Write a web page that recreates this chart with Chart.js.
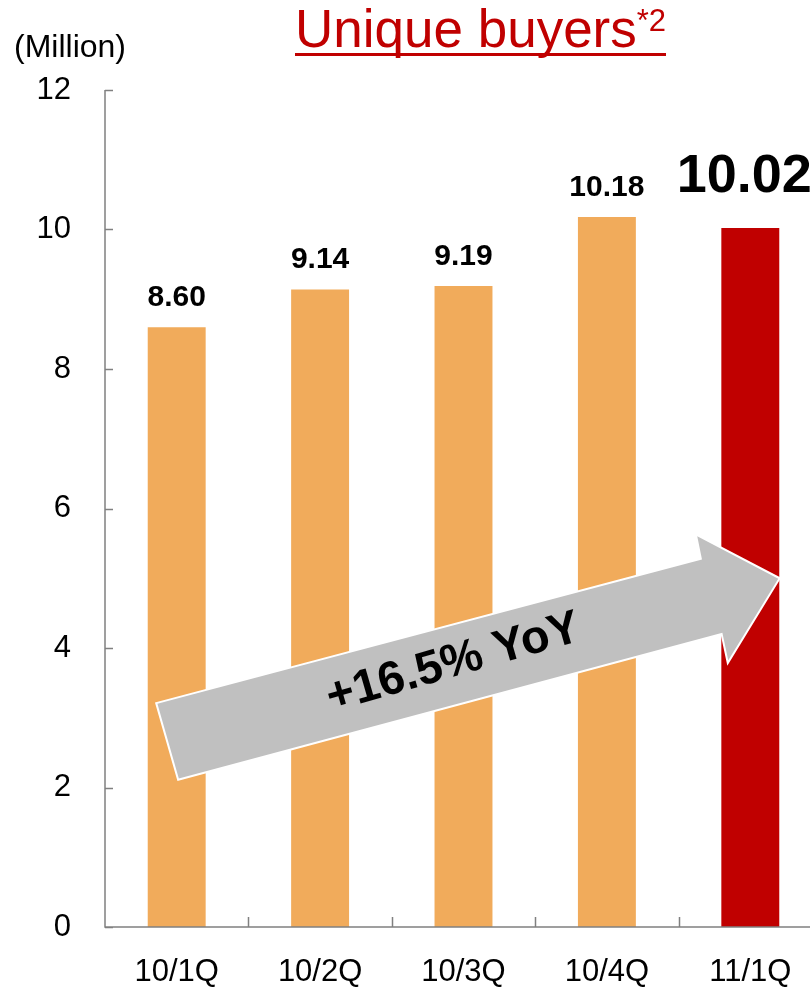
<!DOCTYPE html>
<html>
<head>
<meta charset="utf-8">
<title>Unique buyers</title>
<script src="https://cdn.jsdelivr.net/npm/chart.js@4.4.1/dist/chart.umd.min.js"></script>
<style>
	html, body {
		margin: 0;
		padding: 0;
		background: #fff;
		overflow: hidden;
	}
	#wrap {
		position: relative;
		width: 830px;
		height: 988px;
	}
	#wrap canvas {
		position: absolute;
		left: 0;
		top: 0;
	}
	.unit {
		position: absolute;
		left: 14px;
		top: 27px;
		font: 32px "Liberation Sans", Arial, sans-serif;
		line-height: 38px;
		color: #000;
	}
	.title {
		position: absolute;
		left: 295px;
		top: 5px;
		font: 53px "Liberation Sans", Arial, sans-serif;
		line-height: 48px;
		color: #c00000;
		border-bottom: 3px solid #c00000;
		white-space: nowrap;
	}
	.title sup {
		font-size: 31px;
		vertical-align: 16px;
		line-height: 0;
	}
</style>
</head>
<body>
<div id="wrap">
	<canvas id="buyersChart" width="830" height="988"></canvas>
	<div class="unit">(Million)</div>
	<div class="title">Unique buyers<sup>*2</sup></div>
</div>
<script>
const quarters = ['10/1Q', '10/2Q', '10/3Q', '10/4Q', '11/1Q'];
const buyers = [8.60, 9.14, 9.19, 10.18, 10.02];
const buyerLabels = ['8.60', '9.14', '9.19', '10.18', '10.02'];
const yTicks = [0, 2, 4, 6, 8, 10, 12];
const growthLabel = '+16.5% YoY';

const ORANGE = '#f1ab5b';
const RED = '#c00000';
const AXIS = '#808080';
const FONT = '"Liberation Sans", Arial, sans-serif';

Chart.defaults.font.family = FONT;

// arrow outline in (category index, value) units, tail -> head
const arrowShape = [
	[-0.143, 3.21],
	[3.655, 5.28],
	[3.62, 5.63],
	[4.205, 5.00],
	[3.843, 3.785],
	[3.80, 4.20],
	[0.01, 2.11],
];

// axis lines with inward tick marks
const axesPlugin = {
	id: 'axesPlugin',
	afterDatasetsDraw(chart) {
		const {ctx, chartArea, scales: {x, y}} = chart;
		const y0 = y.getPixelForValue(0);
		ctx.save();
		ctx.strokeStyle = AXIS;
		ctx.lineWidth = 1.5;
		ctx.beginPath();
		ctx.moveTo(chartArea.left, y.getPixelForValue(12));
		ctx.lineTo(chartArea.left, y0);
		ctx.lineTo(chart.width, y0);
		yTicks.forEach(v => {
			const py = Math.round(y.getPixelForValue(v)) + 0.5;
			ctx.moveTo(chartArea.left, py);
			ctx.lineTo(chartArea.left + 8, py);
		});
		for (let i = 1; i < quarters.length; i++)
		{
			const px = Math.round((x.getPixelForValue(i - 1) + x.getPixelForValue(i)) / 2) + 0.5;
			ctx.moveTo(px, y0);
			ctx.lineTo(px, y0 - 10);
		}
		ctx.stroke();
		ctx.restore();
	}
};

// big grey growth arrow across the bars
const arrowPlugin = {
	id: 'arrowPlugin',
	afterDatasetsDraw(chart) {
		const {ctx, scales: {x, y}} = chart;
		const step = x.getPixelForValue(1) - x.getPixelForValue(0);
		const pts = arrowShape.map(p => [x.getPixelForValue(0) + p[0] * step, y.getPixelForValue(p[1])]);

		ctx.save();
		ctx.beginPath();
		pts.forEach((p, i) => i ? ctx.lineTo(p[0], p[1]) : ctx.moveTo(p[0], p[1]));
		ctx.closePath();
		ctx.fillStyle = '#c0c0c0';
		ctx.fill();
		ctx.strokeStyle = '#fff';
		ctx.lineWidth = 2;
		ctx.stroke();

		// text along the shaft
		const a = pts[0], b = pts[1];
		const angle = Math.atan2(b[1] - a[1], b[0] - a[0]);
		const cx = x.getPixelForValue(0) + 1.93 * step;
		const cy = y.getPixelForValue(3.78);
		ctx.translate(cx, cy);
		ctx.rotate(angle - 0.02);
		ctx.fillStyle = '#000';
		ctx.font = 'bold 47px ' + FONT;
		ctx.textAlign = 'center';
		ctx.textBaseline = 'middle';
		ctx.fillText(growthLabel, 0, 0);
		ctx.restore();
	}
};

// value labels over the bars, latest quarter emphasised
const valuePlugin = {
	id: 'valuePlugin',
	afterDatasetsDraw(chart) {
		const {ctx} = chart;
		const meta = chart.getDatasetMeta(0);
		ctx.save();
		ctx.fillStyle = '#000';
		ctx.textAlign = 'center';
		ctx.textBaseline = 'alphabetic';
		meta.data.forEach((bar, i) => {
			const last = i === buyers.length - 1;
			ctx.font = (last ? 'bold 54px ' : 'bold 30px ') + FONT;
			ctx.fillText(buyerLabels[i], bar.x - (last ? 6 : 0), bar.y - (last ? 36 : 21));
		});
		ctx.restore();
	}
};

new Chart(document.getElementById('buyersChart'), {
	type: 'bar',
	data: {
		labels: quarters,
		datasets: [{
			data: buyers,
			backgroundColor: ctx => ctx.dataIndex === buyers.length - 1 ? RED : ORANGE,
			borderWidth: 0,
			categoryPercentage: 1,
			barPercentage: 0.404,
		}]
	},
	options: {
		responsive: false,
		animation: false,
		events: [],
		layout: {
			padding: {top: 90, right: 8, left: 0, bottom: 0}
		},
		plugins: {
			legend: {display: false},
			tooltip: {enabled: false},
		},
		scales: {
			x: {
				grid: {display: false, drawTicks: false},
				border: {display: false},
				ticks: {
					color: '#000',
					font: {size: 31},
					padding: 27,
				},
				afterFit: s => { s.height = 61; },
			},
			y: {
				min: 0,
				max: 12,
				grid: {display: false, drawTicks: false},
				border: {display: false},
				afterBuildTicks: s => { s.ticks = yTicks.map(v => ({value: v})); },
				ticks: {
					color: '#000',
					font: {size: 31},
					padding: 34,
				},
				afterFit: s => { s.width = 105; },
			}
		}
	},
	plugins: [axesPlugin, arrowPlugin, valuePlugin]
});
</script>
</body>
</html>
